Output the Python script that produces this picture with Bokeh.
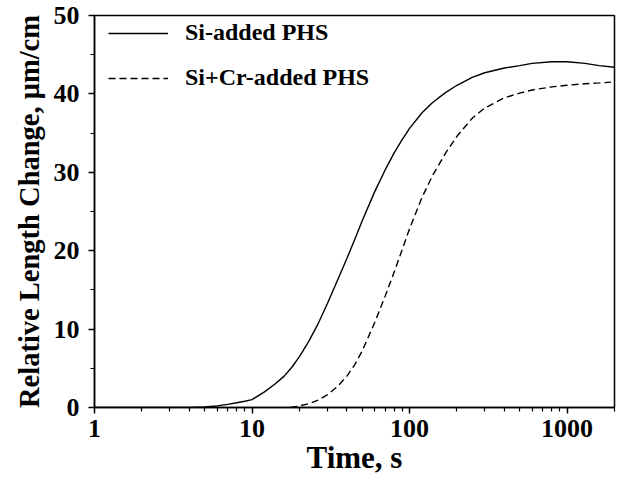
from bokeh.plotting import figure
from bokeh.models import Range1d, FixedTicker, Legend, LegendItem
from bokeh.embed import file_html
from bokeh.resources import INLINE

# Data
time_si = [1, 3, 4, 5, 6, 7, 8, 9, 10, 12, 14, 16, 18, 20, 23, 26, 30, 35, 40, 45, 50, 60, 70, 80, 90,
           100, 120, 140, 170, 200, 250, 300, 400, 500, 600, 800, 1000, 1300, 1600, 2000]
len_si = [0, 0, 0.02, 0.08, 0.2, 0.4, 0.6, 0.8, 1.0, 2.0, 3.0, 4.0, 5.2, 6.5, 8.5, 10.5, 13.2, 16.3, 19.0, 21.5,
          23.8, 27.5, 30.3, 32.5, 34.2, 35.6, 37.6, 38.9, 40.2, 41.1, 42.1, 42.7, 43.3, 43.6, 43.9, 44.1,
          44.1, 43.9, 43.6, 43.4]

time_sicr = [17.5, 20, 23, 26, 30, 35, 40, 45, 50, 60, 70, 80, 90, 100, 120, 140, 170, 200, 250, 300,
             400, 500, 600, 800, 1000, 1300, 1600, 1900]
len_sicr = [0, 0.2, 0.5, 0.9, 1.6, 2.7, 4.0, 5.5, 7.2, 10.8, 14.2, 17.3, 20.2, 22.8, 26.8, 29.6, 32.5,
            34.6, 36.9, 38.2, 39.5, 40.1, 40.5, 40.9, 41.1, 41.3, 41.4, 41.5]

x_major = [1, 10, 100, 1000]
x_labels = ["1", "10", "100", "1000"]
y_major = [0, 10, 20, 30, 40, 50]
y_minor = [5, 15, 25, 35, 45]
series_names = ["Si-added PHS", "Si+Cr-added PHS"]

FONT = "Liberation Serif"

p = figure(width=622, height=483, x_axis_type="log",
           x_range=Range1d(1, 2000), y_range=Range1d(0, 50),
           output_backend="svg", toolbar_location=None,
           min_border_left=94, min_border_right=8, min_border_top=15, min_border_bottom=76)

p.background_fill_color = "white"
p.border_fill_color = "white"
p.grid.visible = False
p.outline_line_color = "black"
p.outline_line_width = 1.5

r1 = p.line(time_si, len_si, line_color="black", line_width=1.4)
r2 = p.line(time_sicr, len_sicr, line_color="black", line_width=1.4, line_dash="7 4")

minor_x = [m * d for d in [1, 10, 100, 1000] for m in range(2, 10) if m * d <= 2000]
p.xaxis.ticker = FixedTicker(ticks=x_major, minor_ticks=minor_x)
p.xaxis.major_label_overrides = {v: s for v, s in zip(x_major, x_labels)}
p.yaxis.ticker = FixedTicker(ticks=y_major, minor_ticks=y_minor)

for ax in (p.xaxis, p.yaxis):
    ax.axis_line_width = 1.5
    ax.axis_line_color = "black"
    ax.major_tick_line_width = 1.5
    ax.minor_tick_line_width = 1.2
    ax.major_tick_out = 6
    ax.major_tick_in = 0
    ax.minor_tick_out = 4
    ax.minor_tick_in = 0
    ax.major_label_text_font = FONT
    ax.major_label_text_font_style = "bold"
    ax.major_label_text_font_size = "26px"
    ax.major_label_text_color = "black"
    ax.axis_label_text_font = FONT
    ax.axis_label_text_font_style = "bold"
    ax.axis_label_text_color = "black"

p.xaxis.axis_label_text_font_size = "31px"
p.yaxis.axis_label_text_font_size = "28.5px"
p.xaxis.axis_label = "Time, s"
p.yaxis.axis_label = "Relative Length Change, \u03bcm/cm"
p.xaxis.major_label_standoff = 6
p.yaxis.major_label_standoff = 9
p.xaxis.axis_label_standoff = 0
p.yaxis.axis_label_standoff = 6

legend = Legend(items=[LegendItem(label=series_names[0], renderers=[r1]),
                       LegendItem(label=series_names[1], renderers=[r2])],
                location=(14, 316), orientation="vertical")
legend.border_line_color = None
legend.background_fill_alpha = 0
legend.padding = 0
legend.margin = 0
legend.spacing = 18
legend.glyph_width = 60
legend.glyph_height = 24
legend.label_height = 24
legend.label_standoff = 17
legend.label_text_font = FONT
legend.label_text_font_style = "bold"
legend.label_text_font_size = "24px"
legend.label_text_color = "black"
p.add_layout(legend)

open("out.html", "w").write(file_html(p, INLINE))
